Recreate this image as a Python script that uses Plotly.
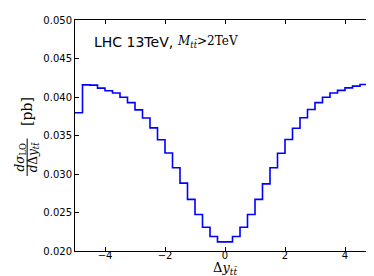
import plotly.graph_objects as go

# Bin edges of the Δy_tt̄ histogram (40 bins of width 0.25 from -5 to 5)
bin_edges = [-5 + 0.25 * i for i in range(41)]

# dσ_LO/dΔy_tt̄ [pb] per bin
sigma_values = [
    0.03795, 0.04158, 0.04154, 0.04115, 0.04081, 0.04051, 0.03996, 0.03927,
    0.03833, 0.03727, 0.03599, 0.03445, 0.03273, 0.03081, 0.02881, 0.02671,
    0.02474, 0.02308, 0.02188, 0.02119, 0.02119, 0.02188, 0.02308, 0.02474,
    0.02671, 0.02872, 0.03081, 0.03269, 0.03449, 0.03594, 0.03731, 0.03837,
    0.03927, 0.03996, 0.04051, 0.04086, 0.04119, 0.04141, 0.04163, 0.03804,
]

x_ticks = [-4, -2, 0, 2, 4]
x_tick_labels = ["−4", "−2", "0", "2", "4"]
y_ticks = [0.020, 0.025, 0.030, 0.035, 0.040, 0.045, 0.050]

W, H = 374, 276
ML, MR, MT, MB = 67, 6, 9, 33
PW, PH = W - ML - MR, H - MT - MB


def px(x):
    return (x - ML) / PW


def py(y):
    return 1 - (y - MT) / PH


fig = go.Figure()
fig.add_trace(go.Scatter(
    x=bin_edges,
    y=sigma_values + [sigma_values[-1]],
    mode="lines",
    line=dict(shape="hv", color="#0000ff", width=1.6),
    hoverinfo="skip",
    showlegend=False,
))

axis_common = dict(
    showgrid=False, zeroline=False, showline=True, linecolor="black",
    linewidth=1, mirror="allticks", ticks="inside", ticklen=4,
    tickwidth=1, tickcolor="black",
    tickfont=dict(family="DejaVu Sans", size=10, color="black"),
)

fig.update_xaxes(range=[-5, 5], tickvals=x_ticks, ticktext=x_tick_labels,
                 ticklabelstandoff=-5, **axis_common)
fig.update_yaxes(range=[0.020, 0.050], tickvals=y_ticks,
                 ticktext=[f"{v:.3f}" for v in y_ticks], **axis_common)

serif = "DejaVu Serif"
ann = []
ann.append(dict(x=px(84), y=py(31), xref="paper", yref="paper", xanchor="left",
                yanchor="middle", showarrow=False, text="LHC 13TeV,",
                font=dict(family="DejaVu Sans", size=14, color="black")))
ann.append(dict(x=px(167), y=py(31), xref="paper", yref="paper", xanchor="left",
                yanchor="middle", showarrow=False,
                text="<i>M</i><sub><i>tt̄</i></sub>&gt;2TeV",
                font=dict(family=serif, size=12, color="black")))
# x-axis label
ann.append(dict(x=px(218), y=py(261), xref="paper", yref="paper", xanchor="center",
                yanchor="middle", showarrow=False,
                text="Δ<i>y</i><sub><i>tt̄</i></sub>",
                font=dict(family=serif, size=13, color="black")))
# y-axis label (fraction)
ann.append(dict(x=px(13), y=py(148), xref="paper", yref="paper", xanchor="center",
                yanchor="middle", showarrow=False, textangle=-90,
                text="<i>dσ</i><sub>LO</sub>",
                font=dict(family=serif, size=12, color="black")))
ann.append(dict(x=px(26), y=py(148), xref="paper", yref="paper", xanchor="center",
                yanchor="middle", showarrow=False, textangle=-90,
                text="<i>d</i>Δ<i>y</i><sub><i>tt̄</i></sub>",
                font=dict(family=serif, size=12, color="black")))
ann.append(dict(x=px(19), y=py(102), xref="paper", yref="paper", xanchor="center",
                yanchor="middle", showarrow=False, textangle=-90,
                text="[pb]",
                font=dict(family=serif, size=14, color="black")))
fig.add_shape(type="line", xref="paper", yref="paper",
              x0=px(19), x1=px(19), y0=py(129), y1=py(167),
              line=dict(color="black", width=1))

fig.update_layout(
    width=W, height=H,
    margin=dict(l=ML, r=MR, t=MT, b=MB, pad=0),
    paper_bgcolor="white", plot_bgcolor="white",
    annotations=ann,
)

fig.write_html("out.html")
